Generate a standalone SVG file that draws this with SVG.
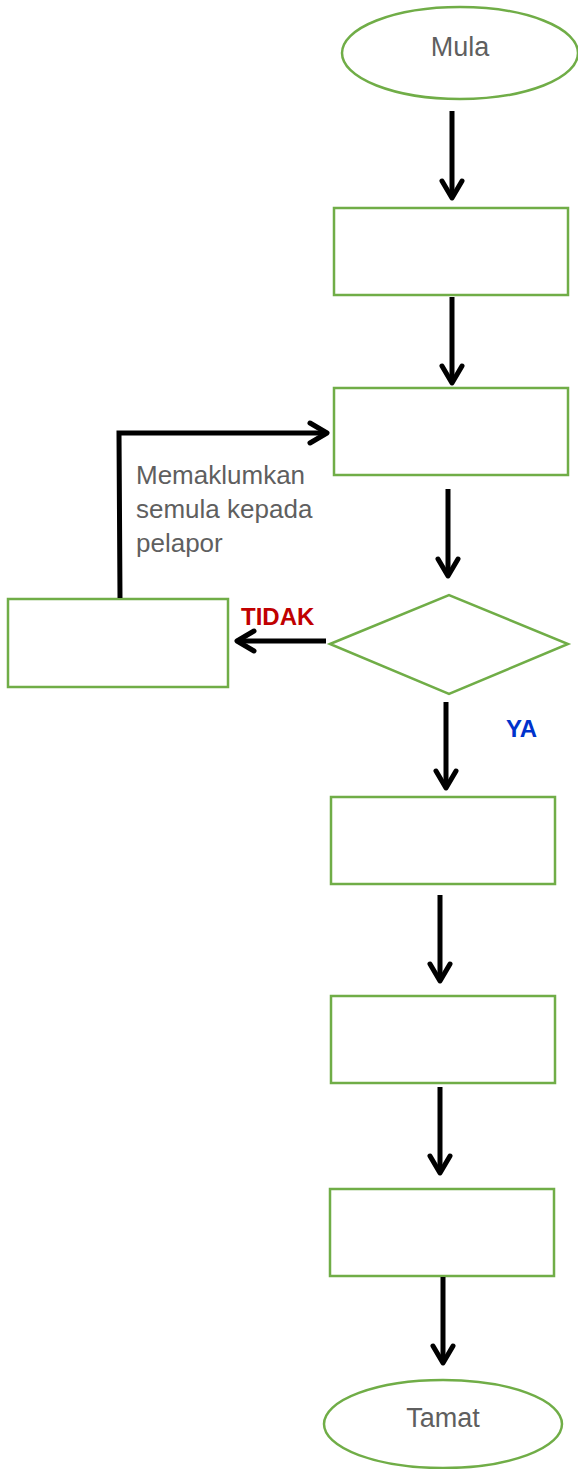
<svg xmlns="http://www.w3.org/2000/svg" width="578" height="1469" viewBox="0 0 578 1469">
<style>
.n{fill:#fff;stroke:#70AD47;stroke-width:2.5}
.c{fill:none;stroke:#000;stroke-width:5}
.h{fill:none;stroke:#000;stroke-width:5;stroke-linecap:round;stroke-linejoin:round}
.t{font-family:"Liberation Sans",Arial,sans-serif;fill:#5f5f5f}
.b{font-family:"Liberation Sans",Arial,sans-serif;font-weight:bold}
</style>
<rect width="578" height="1469" fill="#fff"/>
<g id="mula"><ellipse class="n" cx="460" cy="53" rx="118" ry="46"/><text class="t" x="460" y="56" font-size="27" text-anchor="middle">Mula</text></g>
<g id="box1"><rect class="n" x="334" y="208" width="234" height="87"/></g>
<g id="box2"><rect class="n" x="334" y="388" width="234" height="87"/></g>
<g id="decision"><polygon class="n" points="330,644 449,595 568,644 449,694"/></g>
<g id="boxLeft"><rect class="n" x="8" y="599" width="220" height="88"/></g>
<g id="box3"><rect class="n" x="331" y="797" width="224" height="87"/></g>
<g id="box4"><rect class="n" x="331" y="996" width="224" height="87"/></g>
<g id="box5"><rect class="n" x="330" y="1189" width="224" height="87"/></g>
<g id="tamat"><ellipse class="n" cx="443" cy="1424" rx="119" ry="44"/><text class="t" x="443" y="1427" font-size="27" text-anchor="middle">Tamat</text></g>
<g id="connectors">
<line class="c" x1="452" y1="111" x2="452" y2="197"/><polyline class="h" points="442,181 452,198 462,181"/>
<line class="c" x1="452" y1="297" x2="452" y2="382"/><polyline class="h" points="442,366 452,383 462,366"/>
<line class="c" x1="448" y1="489" x2="448" y2="575"/><polyline class="h" points="438,559 448,576 458,559"/>
<line class="c" x1="326" y1="641" x2="238" y2="641"/><polyline class="h" points="254,631 237,641 254,651"/>
<polyline class="c" points="120,598 119,433 325,433"/><polyline class="h" points="310,423 327,433 310,443"/>
<line class="c" x1="446" y1="702" x2="446" y2="787"/><polyline class="h" points="436,771 446,788 456,771"/>
<line class="c" x1="440" y1="895" x2="440" y2="980"/><polyline class="h" points="430,964 440,981 450,964"/>
<line class="c" x1="440" y1="1087" x2="440" y2="1172"/><polyline class="h" points="430,1156 440,1173 450,1156"/>
<line class="c" x1="443" y1="1277" x2="443" y2="1362"/><polyline class="h" points="433,1346 443,1363 453,1346"/>
</g>
<g id="labels">
<text class="t" font-size="26"><tspan x="136" y="484">Memaklumkan</tspan><tspan x="136" y="518">semula kepada</tspan><tspan x="136" y="552">pelapor</tspan></text>
<text class="b" x="241" y="625" font-size="24" fill="#C00000">TIDAK</text>
<text class="b" x="506" y="737" font-size="24" fill="#0033CC">YA</text>
</g>
</svg>
